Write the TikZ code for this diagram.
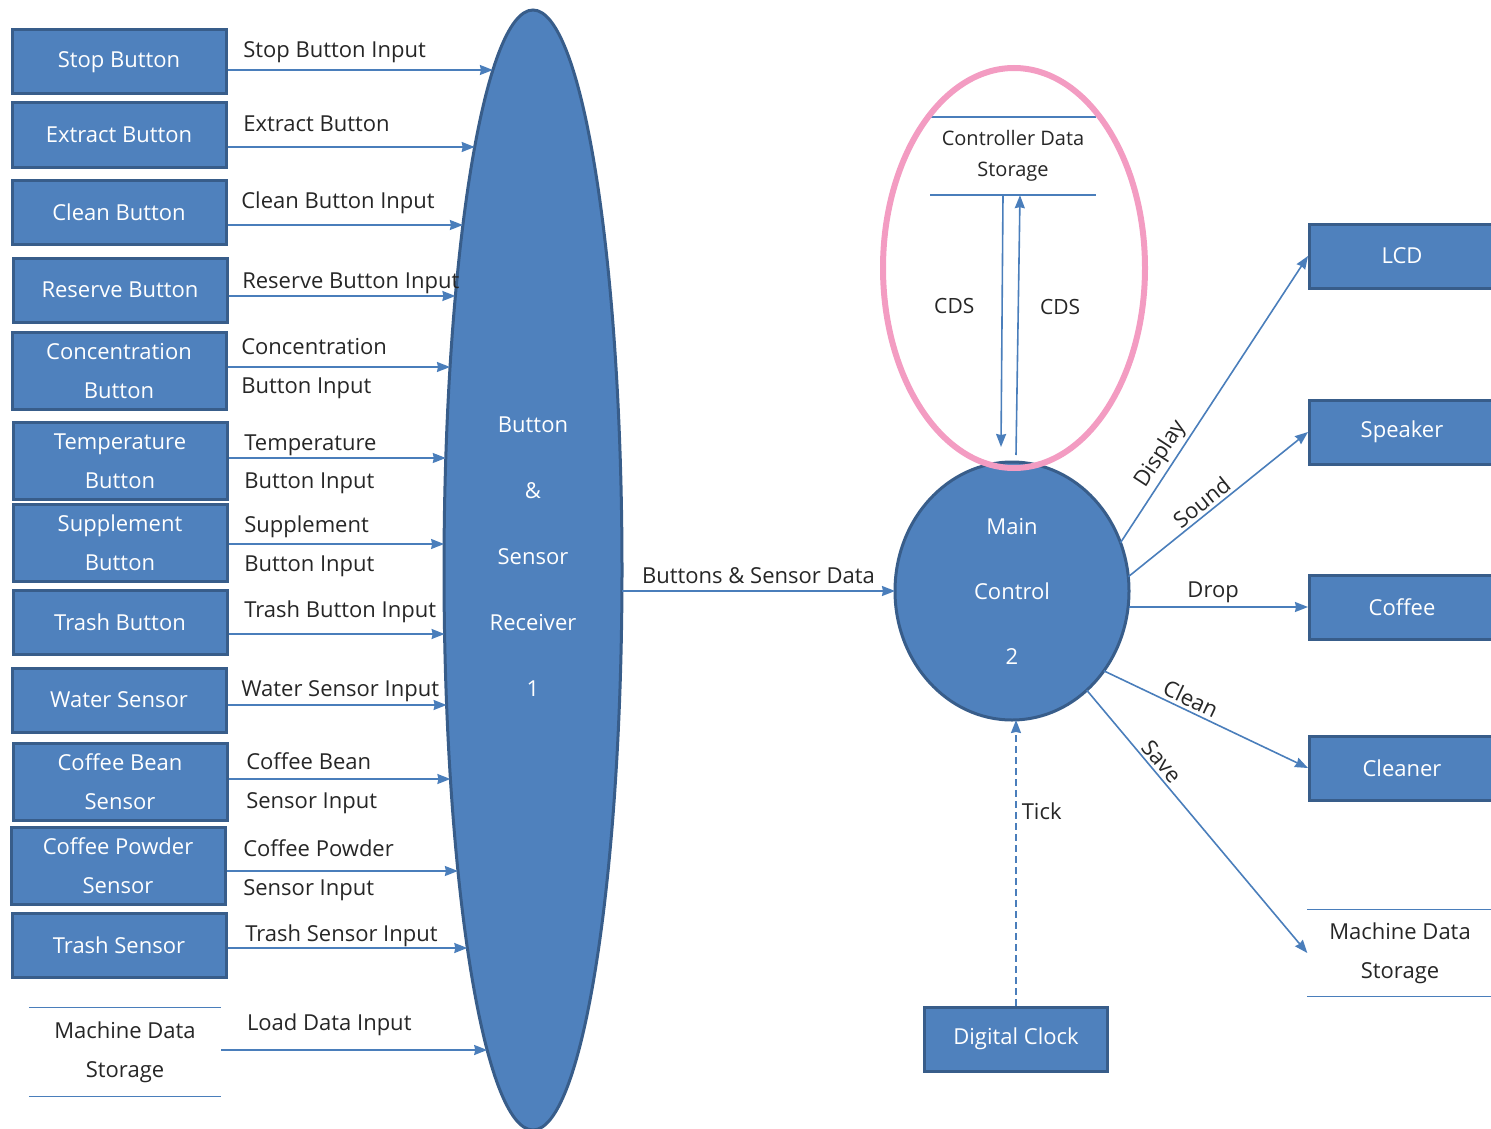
\documentclass[tikz,border=0pt]{standalone}
\usepackage{fontspec}
\setmainfont{Open Sans}
\usetikzlibrary{shapes, arrows, positioning, arrows.meta}

\definecolor{boxblue}{HTML}{4F81BD}
\definecolor{boxedge}{HTML}{385D8A}
\definecolor{flowblue}{HTML}{4A7EBB}
\definecolor{ringpink}{HTML}{F39CC2}

\tikzset{
    ext/.style={rectangle, fill=boxblue, draw=boxedge, line width=3pt, text=white, align=center,
        minimum width=214pt, minimum height=64pt, inner sep=2pt, font=\fontsize{22}{39}\selectfont},
    ext2/.style={ext, minimum height=77pt},
    proc/.style={ellipse, fill=boxblue, draw=boxedge, line width=3pt, text=white, align=center,
        inner sep=0pt, outer sep=0pt},
    store/.style={align=center, text=black!85, inner sep=0pt, font=\fontsize{22}{39}\selectfont},
    storeline/.style={draw=flowblue, line width=1.5pt},
    flow/.style={draw=flowblue, line width=1.6pt, -{Stealth[length=13pt, width=10pt, inset=1pt]}},
    lbl/.style={text=black!85, inner sep=3pt, font=\fontsize{22}{26}\selectfont},
}

\begin{document}
\begin{tikzpicture}[x=1pt, y=-1pt]

    \clip (0,0) rectangle (1491,1129);

    % Receiver
    \node[proc, minimum width=178pt, minimum height=1120pt, text depth=27pt, font=\fontsize{22}{66}\selectfont] (recv) at (533,570) {Button\\\&\\Sensor\\Receiver\\1};

    % entry points on the receiver
    \path (recv.center) ++(-40.1,-500) coordinate (in1);
    \path (recv.center) ++(-58.3,-423) coordinate (in2);
    \path (recv.center) ++(-70.1,-345) coordinate (in3);
    \path (recv.center) ++(-77.6,-274) coordinate (in4);
    \path (recv.center) ++(-83.0,-203) coordinate (in5);
    \path (recv.center) ++(-87.2,-112) coordinate (in6);
    \path (recv.center) ++(-88.9,-26) coordinate (in7);
    \path (recv.center) ++(-88.4,64) coordinate (in8);
    \path (recv.center) ++(-86.4,135) coordinate (in9);
    \path (recv.center) ++(-82.6,209) coordinate (in10);
    \path (recv.center) ++(-75.1,301) coordinate (in11);
    \path (recv.center) ++(-65.7,378) coordinate (in12);
    \path (recv.center) ++(-45.8,480) coordinate (in13);

    % Buttons and sensors
    \node[ext] (stop) at (119,62) {Stop Button};
    \node[ext] (extract) at (119,135) {Extract Button};
    \node[ext] (clean) at (119,212) {Clean Button};
    \node[ext] (reserve) at (120,290) {Reserve Button};
    \node[ext2] (conc) at (119,371) {Concentration\\Button};
    \node[ext2] (temp) at (120,461) {Temperature\\Button};
    \node[ext2] (supp) at (120,543) {Supplement\\Button};
    \node[ext] (trashbtn) at (120,622) {Trash Button};
    \node[ext] (water) at (119,700) {Water Sensor};
    \node[ext2] (bean) at (120,782) {Coffee Bean\\Sensor};
    \node[ext2] (powder) at (118,866) {Coffee Powder\\Sensor};
    \node[ext] (trashsns) at (119,945) {Trash Sensor};

    % Machine data storage (left)
    \node[store, minimum width=192pt, minimum height=89pt] (mdsA) at (125,1052) {Machine Data\\Storage};
    \draw[storeline] (mdsA.north west) -- (mdsA.north east);
    \draw[storeline] (mdsA.south west) -- (mdsA.south east);

    % Inputs
    \draw[flow] (stop.east |- in1) -- node[lbl, pos=0, above right=3pt and 12pt] {Stop Button Input} (in1);
    \draw[flow] (extract.east |- in2) -- node[lbl, pos=0, above right=11pt and 12pt] {Extract Button} (in2);
    \draw[flow] (clean.east |- in3) -- node[lbl, pos=0, above right=7pt and 10pt] {Clean Button Input} (in3);
    \draw[flow] (reserve.east |- in4) -- node[lbl, pos=0, above right=-2pt and 10pt] {Reserve Button Input} (in4);
    \draw[flow] (conc.east |- in5) -- node[lbl, pos=0, above right=8pt and 10pt] {Concentration}
        node[lbl, pos=0, below right=7pt and 10pt] {Button Input} (in5);
    \draw[flow] (temp.east |- in6) -- node[lbl, pos=0, above right=-2pt and 12pt] {Temperature}
        node[lbl, pos=0, below right=11pt and 12pt] {Button Input} (in6);
    \draw[flow] (supp.east |- in7) -- node[lbl, pos=0, above right=2pt and 12pt] {Supplement}
        node[lbl, pos=0, below right=8pt and 12pt] {Button Input} (in7);
    \draw[flow] (trashbtn.east |- in8) -- node[lbl, pos=0, above right=7pt and 12pt] {Trash Button Input} (in8);
    \draw[flow] (water.east |- in9) -- node[lbl, pos=0, above right=-1pt and 10pt] {Water Sensor Input} (in9);
    \draw[flow] (bean.east |- in10) -- node[lbl, pos=0, above right=5pt and 14pt] {Coffee Bean}
        node[lbl, pos=0, below right=10pt and 14pt] {Sensor Input} (in10);
    \draw[flow] (powder.east |- in11) -- node[lbl, pos=0, above right=10pt and 13pt] {Coffee Powder}
        node[lbl, pos=0, below right=5pt and 13pt] {Sensor Input} (in11);
    \draw[flow] (trashsns.east |- in12) -- node[lbl, pos=0, above right=-3pt and 14pt] {Trash Sensor Input} (in12);
    \draw[flow] (mdsA.east |- in13) -- node[lbl, pos=0, above right=10pt and 22pt] {Load Data Input} (in13);

    % Main control
    \node[proc, minimum width=234pt, minimum height=258pt, font=\fontsize{22}{65}\selectfont] (ctrl) at (1012,591) {Main\\Control\\2};
    \draw[flow] (recv.east |- ctrl.west) -- node[lbl, above=3pt] {Buttons \& Sensor Data} (ctrl.west);

    % Controller data storage
    \node[store, minimum width=165pt, minimum height=78pt, font=\fontsize{20}{31}\selectfont] (cds) at (1013,156) {Controller Data\\Storage};
    \draw[storeline] (cds.north west) -- (cds.north east);
    \draw[storeline] (cds.south west) -- (cds.south east);
    \draw[flow] ([xshift=-10pt]cds.south) -- node[lbl, pos=0.44, left=24pt, font=\fontsize{21}{25}\selectfont] {CDS} ([xshift=-11pt, yshift=15pt]ctrl.north);
    \draw[flow] ([xshift=4pt, yshift=7pt]ctrl.north) -- node[lbl, pos=0.57, right=18pt, font=\fontsize{21}{25}\selectfont] {CDS} ([xshift=7pt]cds.south);

    % highlight
    \draw[ringpink, line width=6pt] (1014,268) ellipse [x radius=131, y radius=200];

    % Outputs
    \node[ext, minimum width=185pt] (lcd) at (1402,256) {LCD};
    \node[ext, minimum width=185pt] (speaker) at (1402,432) {Speaker};
    \node[ext, minimum width=185pt] (coffee) at (1402,607) {Coffee};
    \node[ext, minimum width=185pt] (cleaner) at (1402,768) {Cleaner};
    \node[store, minimum width=185pt, minimum height=87pt] (mdsB) at (1400,953) {Machine Data\\Storage};
    \draw[storeline] (mdsB.north west) -- (mdsB.north east);
    \draw[storeline] (mdsB.south west) -- (mdsB.south east);

    \draw[flow] (ctrl.24) -- node[lbl, sloped, above, pos=0.28] {Display} (lcd.west);
    \draw[flow] (ctrl.7) -- node[lbl, sloped, above, pos=0.45] {Sound} (speaker.west);
    \draw[flow] (coffee.west -| ctrl.east) -- node[lbl, above, pos=0.47] {Drop} (coffee.west);
    \draw[flow] (ctrl.-41.7) -- node[lbl, sloped, above, pos=0.4] {Clean} (cleaner.west);
    \draw[flow] (ctrl.-53) -- node[lbl, sloped, above, pos=0.3] {Save} (mdsB.west);

    % Clock
    \node[ext, minimum width=183pt] (clock) at (1016,1039) {Digital Clock};
    \draw[flow, dash pattern=on 7pt off 4pt] (clock.north) -- node[lbl, pos=0.68, right=2pt] {Tick} (clock.north |- ctrl.south);

\end{tikzpicture}
\end{document}
